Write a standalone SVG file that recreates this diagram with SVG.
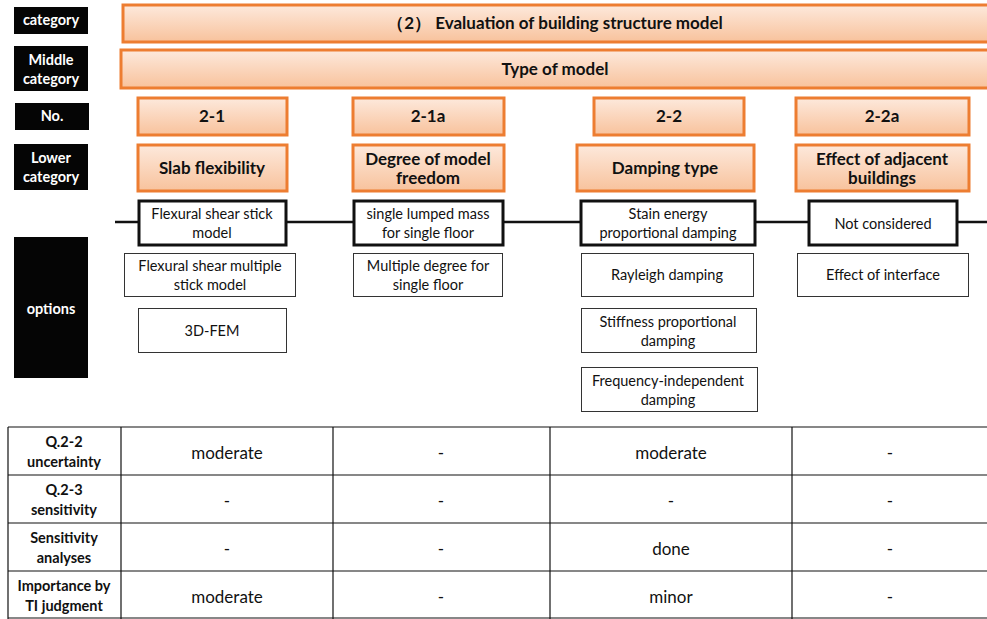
<svg xmlns="http://www.w3.org/2000/svg" width="987" height="619" viewBox="0 0 987 619">
<defs>
<linearGradient id="og" x1="0" y1="0" x2="0" y2="1">
<stop offset="0" stop-color="#fde9dc"/>
<stop offset="1" stop-color="#f8c29c"/>
</linearGradient>
</defs>
<style>
text{font-family:Lato,"Open Sans","Liberation Sans",sans-serif;text-anchor:middle;fill:#111}
.lab rect{fill:#050505}
.lab text{fill:#fff;font-weight:bold;font-size:14.5px}
.or rect{fill:url(#og);stroke:#ed7d31;stroke-width:3}
.or text{font-weight:bold;font-size:17px}
.thick rect{fill:#fff;stroke:#111;stroke-width:3}
.thin rect{fill:#fff;stroke:#333;stroke-width:1}
.opt text{font-size:14.5px}
.tbl line{stroke:#111;stroke-width:1.2}
.rh{font-weight:bold;font-size:14.5px}
.val{font-size:17px}
</style>
<g id="labels" class="lab">
<g id="lab-category"><rect x="14" y="7" width="74" height="27"/><text x="51" y="25">category</text></g>
<g id="lab-middle"><rect x="14" y="46" width="74" height="45"/><text x="51" y="65">Middle</text><text x="51" y="84">category</text></g>
<g id="lab-no"><rect x="15" y="103" width="74" height="27"/><text x="52" y="121">No.</text></g>
<g id="lab-lower"><rect x="14" y="144" width="74" height="46"/><text x="51" y="163">Lower</text><text x="51" y="182">category</text></g>
<g id="lab-options"><rect x="14" y="237" width="74" height="141"/><text x="51" y="314">options</text></g>
</g>
<g id="connectors">
<line x1="115" y1="222" x2="987" y2="222" stroke="#111" stroke-width="2.5"/>
</g>
<g class="or">
<g id="cat"><rect x="123" y="5" width="868" height="37"/><text x="555" y="29">（2） Evaluation of building structure model</text></g>
<g id="mid"><rect x="121" y="50" width="870" height="38"/><text x="555" y="75">Type of model</text></g>
<g id="no-21"><rect x="138" y="98" width="149" height="37"/><text x="212" y="122">2-1</text></g>
<g id="no-21a"><rect x="353" y="98" width="151" height="37"/><text x="428" y="122">2-1a</text></g>
<g id="no-22"><rect x="594" y="98" width="150" height="37"/><text x="669" y="122">2-2</text></g>
<g id="no-22a"><rect x="796" y="98" width="173" height="37"/><text x="882" y="122">2-2a</text></g>
<g id="low-21"><rect x="138" y="145" width="149" height="46"/><text x="212" y="174">Slab flexibility</text></g>
<g id="low-21a"><rect x="353" y="145" width="151" height="46"/><text x="428" y="165">Degree of model</text><text x="428" y="184">freedom</text></g>
<g id="low-22"><rect x="577" y="145" width="177" height="46"/><text x="665" y="174">Damping type</text></g>
<g id="low-22a"><rect x="796" y="145" width="173" height="46"/><text x="882" y="165">Effect of adjacent</text><text x="882" y="184">buildings</text></g>
</g>
<g class="opt">
<g id="opt-fss" class="thick"><rect x="139" y="201" width="147" height="44"/><text x="212" y="219">Flexural shear stick</text><text x="212" y="238">model</text></g>
<g id="opt-slm" class="thick"><rect x="354" y="201" width="149" height="44"/><text x="428" y="219">single lumped mass</text><text x="428" y="238">for single floor</text></g>
<g id="opt-sep" class="thick"><rect x="581" y="201" width="174" height="44"/><text x="668" y="219">Stain energy</text><text x="668" y="238">proportional damping</text></g>
<g id="opt-nc" class="thick"><rect x="809" y="201" width="148" height="44"/><text x="883" y="229">Not considered</text></g>
<g id="opt-fsm" class="thin"><rect x="124.5" y="253.5" width="171" height="43"/><text x="210" y="271">Flexural shear multiple</text><text x="210" y="290">stick model</text></g>
<g id="opt-3d" class="thin"><rect x="138.5" y="308.5" width="148" height="44"/><text x="212" y="336">3D-FEM</text></g>
<g id="opt-md" class="thin"><rect x="353.5" y="253.5" width="149" height="43"/><text x="428" y="271">Multiple degree for</text><text x="428" y="290">single floor</text></g>
<g id="opt-ray" class="thin"><rect x="581.5" y="253.5" width="172" height="43"/><text x="667" y="280">Rayleigh damping</text></g>
<g id="opt-stf" class="thin"><rect x="581.5" y="308.5" width="175" height="44"/><text x="668" y="327">Stiffness proportional</text><text x="668" y="346">damping</text></g>
<g id="opt-fid" class="thin"><rect x="581.5" y="367.5" width="176" height="44"/><text x="668" y="386">Frequency-independent</text><text x="668" y="405">damping</text></g>
<g id="opt-ei" class="thin"><rect x="797.5" y="253.5" width="171" height="43"/><text x="883" y="280">Effect of interface</text></g>
</g>
<g id="table" class="tbl">
<line x1="8" y1="427" x2="987" y2="427" stroke-width="2"/>
<line x1="8" y1="475" x2="987" y2="475"/>
<line x1="8" y1="523" x2="987" y2="523"/>
<line x1="8" y1="571" x2="987" y2="571"/>
<line x1="8" y1="618" x2="987" y2="618" stroke-width="2"/>
<line x1="8" y1="427" x2="8" y2="619" stroke-width="1.5"/>
<line x1="121" y1="427" x2="121" y2="619" stroke-width="2"/>
<line x1="333" y1="427" x2="333" y2="619"/>
<line x1="550" y1="427" x2="550" y2="619"/>
<line x1="792" y1="427" x2="792" y2="619"/>
<text class="rh" x="64" y="447">Q.2-2</text><text class="rh" x="64" y="467">uncertainty</text>
<text class="rh" x="64" y="495">Q.2-3</text><text class="rh" x="64" y="515">sensitivity</text>
<text class="rh" x="64" y="543">Sensitivity</text><text class="rh" x="64" y="563">analyses</text>
<text class="rh" x="64" y="591">Importance by</text><text class="rh" x="64" y="611">TI judgment</text>
<text class="val" x="227" y="459">moderate</text><text class="val" x="441" y="459">-</text><text class="val" x="671" y="459">moderate</text><text class="val" x="890" y="459">-</text>
<text class="val" x="227" y="507">-</text><text class="val" x="441" y="507">-</text><text class="val" x="671" y="507">-</text><text class="val" x="890" y="507">-</text>
<text class="val" x="227" y="555">-</text><text class="val" x="441" y="555">-</text><text class="val" x="671" y="555">done</text><text class="val" x="890" y="555">-</text>
<text class="val" x="227" y="603">moderate</text><text class="val" x="441" y="603">-</text><text class="val" x="671" y="603">minor</text><text class="val" x="890" y="603">-</text>
</g>
</svg>
